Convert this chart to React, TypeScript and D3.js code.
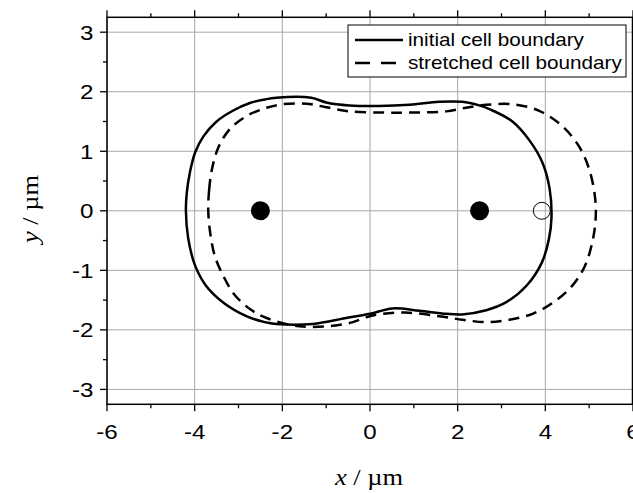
import React from "react";
import * as d3 from "d3";

// Cell boundary contours in µm, traced clockwise from the leftmost point
const initialBoundary: [number, number][] = [
  [-4.2, 0.0], [-4.18, 0.3], [-4.11, 0.64], [-3.99, 0.98], [-3.8, 1.25],
  [-3.5, 1.5], [-3.13, 1.68], [-2.74, 1.81], [-2.4, 1.87], [-2.14, 1.9],
  [-1.34, 1.9], [-1.0, 1.82], [-0.47, 1.77], [0.2, 1.76], [0.9, 1.78],
  [1.58, 1.83], [2.1, 1.83], [2.49, 1.77], [2.75, 1.7], [3.25, 1.5],
  [3.65, 1.17], [3.94, 0.8], [4.1, 0.36], [4.14, -0.12], [4.08, -0.48],
  [3.92, -0.87], [3.58, -1.25], [3.12, -1.53], [2.65, -1.67], [2.1, -1.74],
  [1.74, -1.73], [1.13, -1.68], [0.51, -1.64], [0.0, -1.73], [-0.54, -1.8],
  [-1.31, -1.9], [-2.14, -1.9], [-2.4, -1.87], [-2.82, -1.77], [-3.35, -1.54],
  [-3.75, -1.25], [-4.0, -0.9], [-4.15, -0.45],
];

const stretchedBoundary: [number, number][] = [
  [-3.69, 0.0], [-3.67, 0.35], [-3.6, 0.72], [-3.45, 1.08], [-3.2, 1.37],
  [-2.82, 1.59], [-2.36, 1.73], [-1.99, 1.79], [-1.45, 1.8], [-1.0, 1.74],
  [-0.47, 1.67], [0.3, 1.65], [0.9, 1.65], [1.74, 1.67], [2.19, 1.73],
  [2.65, 1.78], [3.25, 1.79], [3.86, 1.68], [4.39, 1.42], [4.77, 1.08],
  [5.0, 0.7], [5.13, 0.25], [5.15, -0.1], [5.08, -0.5], [4.9, -0.93],
  [4.6, -1.27], [4.16, -1.55], [3.71, -1.73], [3.18, -1.83], [2.65, -1.87],
  [2.11, -1.83], [1.58, -1.77], [0.8, -1.71], [0.2, -1.74], [-0.09, -1.79],
  [-0.39, -1.87], [-0.85, -1.93], [-1.61, -1.94], [-2.36, -1.8], [-2.74, -1.65],
  [-3.1, -1.4], [-3.37, -1.06], [-3.54, -0.76], [-3.64, -0.4],
];

// Anchor points (filled) and the displaced marker (open)
const anchorPoints: [number, number][] = [[-2.5, 0], [2.5, 0]];
const openPoints: [number, number][] = [[3.92, 0]];

const xMajorTicks = [-6, -4, -2, 0, 2, 4, 6];
const xMinorTicks = [-5, -3, -1, 1, 3, 5];
const yMajorTicks = [-3, -2, -1, 0, 1, 2, 3];
const yMinorTicks = [-2.5, -1.5, -0.5, 0.5, 1.5, 2.5];

const legendLabels = ["initial cell boundary", "stretched cell boundary"];

const W = 633;
const H = 493;
const left = 107;
const right = 632.5;
const top = 17.3;
const bottom = 404.3;
// text in this figure is rendered slightly wide
const sx = 1.15;

export default function App() {
  const x = d3.scaleLinear().domain([-6, 6]).range([left, right + 0.5]);
  const y = d3.scaleLinear().domain([-3.25, 3.25]).range([bottom, top]);
  const line = d3
    .line<[number, number]>()
    .x((d) => x(d[0]))
    .y((d) => y(d[1]))
    .curve(d3.curveCatmullRomClosed.alpha(0.5));

  const tickFont = "'Liberation Sans', Arial, sans-serif";
  const titleFont = "'Liberation Serif', 'Times New Roman', serif";
  const majorLen = 7;
  const minorLen = 4;
  const fmt = (t: number) => (t < 0 ? "-" + Math.abs(t) : String(t));

  return (
    <svg
      width={W}
      height={H}
      style={{ position: "fixed", left: 0, top: 0, background: "#fff" }}
    >
      <rect x={0} y={0} width={W} height={H} fill="#fff" />
      {/* grid */}
      <g stroke="#a8a8a8" strokeWidth={1}>
        {xMajorTicks.map((t) => (
          <line key={"gx" + t} x1={x(t)} x2={x(t)} y1={top} y2={bottom} />
        ))}
        {yMajorTicks.map((t) => (
          <line key={"gy" + t} x1={left} x2={right} y1={y(t)} y2={y(t)} />
        ))}
      </g>

      {/* boundaries */}
      <path
        d={line(stretchedBoundary) || ""}
        fill="none"
        stroke="#000"
        strokeWidth={2.5}
        strokeDasharray="11 7"
        strokeLinejoin="round"
      />
      <path
        d={line(initialBoundary) || ""}
        fill="none"
        stroke="#000"
        strokeWidth={2.5}
        strokeLinejoin="round"
      />

      {anchorPoints.map((p, i) => (
        <circle key={"a" + i} cx={x(p[0])} cy={y(p[1])} r={9.5} fill="#000" />
      ))}
      {openPoints.map((p, i) => (
        <circle
          key={"o" + i}
          cx={x(p[0])}
          cy={y(p[1])}
          r={8.5}
          fill="none"
          stroke="#000"
          strokeWidth={1}
        />
      ))}

      {/* frame */}
      <rect
        x={left}
        y={top}
        width={right - left}
        height={bottom - top}
        fill="none"
        stroke="#000"
        strokeWidth={1.5}
      />

      {/* ticks */}
      <g stroke="#000" strokeWidth={1.3}>
        {xMajorTicks.map((t) => (
          <g key={"tx" + t}>
            <line x1={x(t)} x2={x(t)} y1={bottom} y2={bottom + majorLen} />
            <line x1={x(t)} x2={x(t)} y1={top} y2={top - majorLen} />
          </g>
        ))}
        {xMinorTicks.map((t) => (
          <g key={"mx" + t}>
            <line x1={x(t)} x2={x(t)} y1={bottom} y2={bottom + minorLen} />
            <line x1={x(t)} x2={x(t)} y1={top} y2={top - minorLen} />
          </g>
        ))}
        {yMajorTicks.map((t) => (
          <line key={"ty" + t} x1={left} x2={left - majorLen} y1={y(t)} y2={y(t)} />
        ))}
        {yMinorTicks.map((t) => (
          <line key={"my" + t} x1={left} x2={left - minorLen} y1={y(t)} y2={y(t)} />
        ))}
      </g>

      {/* tick labels */}
      <g fontFamily={tickFont} fontSize={21} fill="#000">
        {xMajorTicks.map((t) => (
          <text
            key={"lx" + t}
            transform={`translate(${x(t)},439) scale(${sx},1)`}
            textAnchor="middle"
          >
            {fmt(t)}
          </text>
        ))}
        {yMajorTicks.map((t) => (
          <text
            key={"ly" + t}
            transform={`translate(93.5,${y(t) + 7.5}) scale(${sx},1)`}
            textAnchor="end"
          >
            {fmt(t)}
          </text>
        ))}
      </g>

      {/* axis titles */}
      <text
        transform={`translate(369,485) scale(${sx},1)`}
        textAnchor="middle"
        fontFamily={titleFont}
        fontSize={23}
        fill="#000"
      >
        <tspan fontStyle="italic">x</tspan> / µm
      </text>
      <text
        transform={`translate(38,209) rotate(-90) scale(${sx},1)`}
        textAnchor="middle"
        fontFamily={titleFont}
        fontSize={23}
        fill="#000"
      >
        <tspan fontStyle="italic">y</tspan> / µm
      </text>

      {/* legend */}
      <g>
        <rect x={348} y={25} width={278} height={52} fill="#fff" stroke="#000" strokeWidth={1} />
        <line x1={355} x2={403} y1={40} y2={40} stroke="#000" strokeWidth={2.5} />
        <line
          x1={355}
          x2={403}
          y1={63}
          y2={63}
          stroke="#000"
          strokeWidth={2.5}
          strokeDasharray="15 11"
        />
        <g fontFamily={tickFont} fontSize={18} fill="#000">
          <text transform={`translate(408,46) scale(${sx},1)`}>{legendLabels[0]}</text>
          <text transform={`translate(408,69) scale(${sx},1)`}>{legendLabels[1]}</text>
        </g>
      </g>
    </svg>
  );
}
